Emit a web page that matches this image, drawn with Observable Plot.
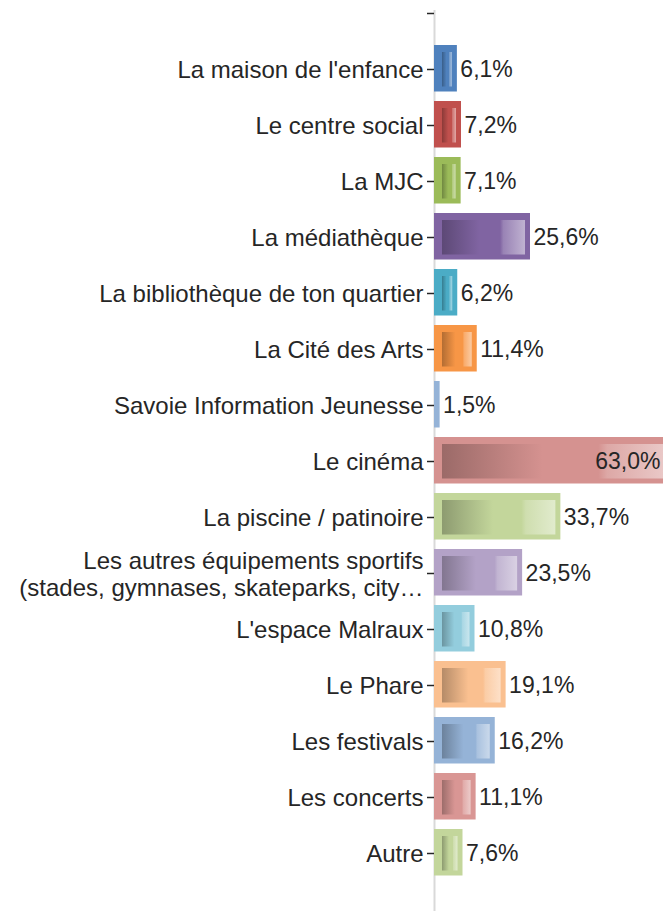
<!DOCTYPE html>
<html><head><meta charset="utf-8">
<script src="https://cdn.jsdelivr.net/npm/d3@7"></script>
<script src="https://cdn.jsdelivr.net/npm/@observablehq/plot@0.6"></script>
<style>body{margin:0;background:#fff;}</style>
</head><body><div id="chart"></div>
<script>
const categories = [
  "La maison de l'enfance",
  "Le centre social",
  "La MJC",
  "La médiathèque",
  "La bibliothèque de ton quartier",
  "La Cité des Arts",
  "Savoie Information Jeunesse",
  "Le cinéma",
  "La piscine / patinoire",
  "Les autres équipements sportifs\n(stades, gymnases, skateparks, city…",
  "L'espace Malraux",
  "Le Phare",
  "Les festivals",
  "Les concerts",
  "Autre"
];
const values = [6.1, 7.2, 7.1, 25.6, 6.2, 11.4, 1.5, 63.0, 33.7, 23.5, 10.8, 19.1, 16.2, 11.1, 7.6];
const colors = ["#4f81bd", "#c0504d", "#9bbb59", "#8064a2", "#4bacc6", "#f79646", "#95b3d7",
                "#d59290", "#c3d69b", "#b3a2c7", "#93cddd", "#fac090", "#95b3d7", "#d99694", "#c3d69b"];
const blankTop = " ";
const XMAX = 61.07;

const data = categories.map((c, i) => ({category: c, value: values[i], color: colors[i], grad: `url(#grad${i})`}));
const fmt = v => v.toFixed(1).replace(".", ",") + "%";

const plot = Plot.plot({
  width: 663, height: 911,
  marginLeft: 434, marginRight: 0, marginTop: 10, marginBottom: 0,
  style: {fontFamily: "'Liberation Sans', Arial, sans-serif", fontSize: "23px", color: "#262626", background: "white"},
  x: {domain: [0, XMAX], axis: null},
  y: {type: "band", domain: [blankTop, ...categories], range: [-17.5, 884.2], padding: 0, axis: null},
  color: {type: "identity"},
  marks: [
    Plot.ruleX([0], {stroke: "#d9d9d9", strokeWidth: 2}),
    Plot.axisY({label: null, tickSize: 7, tickPadding: 4, tickFormat: d => d, lineHeight: 1.15, fontSize: 24, strokeWidth: 1.5}),
    Plot.barX(data, {x: "value", y: "category", fill: "color", insetTop: 4, insetBottom: 5.5}),
    Plot.barX(data, {x: "value", y: "category", fill: "grad", insetTop: 11, insetBottom: 10.5, insetLeft: 8, insetRight: 5}),
    Plot.text(data.filter(d => d.value <= XMAX), {x: "value", y: "category", text: d => fmt(d.value), textAnchor: "start", dx: 3, fontSize: 23}),
    Plot.text(data.filter(d => d.value > XMAX), {x: d => Math.min(d.value, XMAX), y: "category", text: d => fmt(d.value), textAnchor: "end", dx: -3, fontSize: 23})
  ]
});

const defs = d3.select(plot).insert("defs", ":first-child");
colors.forEach((c, i) => {
  const base = d3.color(c);
  const dark = base.darker(0.9).formatHex();
  const light1 = d3.interpolateRgb(c, "#ffffff")(0.2);
  const light2 = d3.interpolateRgb(c, "#ffffff")(0.5);
  const g = defs.append("linearGradient").attr("id", `grad${i}`).attr("x1", 0).attr("x2", 1).attr("y1", 0).attr("y2", 0);
  [[0, dark], [0.45, c], [0.7, c], [0.74, light1], [1, light2]].forEach(([o, col]) =>
    g.append("stop").attr("offset", o).attr("stop-color", col));
});

document.getElementById("chart").append(plot);
</script>
</body></html>
